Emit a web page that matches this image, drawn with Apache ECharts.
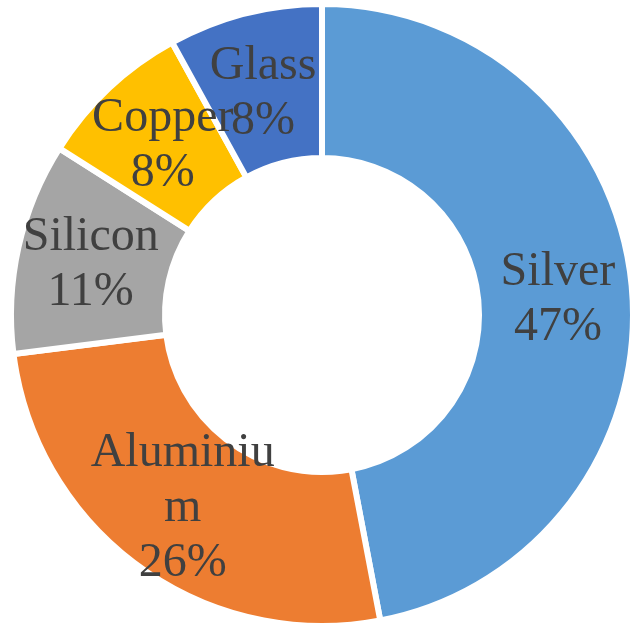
<!DOCTYPE html>
<html>
<head>
<meta charset="utf-8">
<script src="https://cdn.jsdelivr.net/npm/echarts@6/dist/echarts.min.js"></script>
<style>
  html, body { margin: 0; padding: 0; background: #ffffff; }
  #chart { width: 633px; height: 633px; }
</style>
</head>
<body>
<div id="chart"></div>
<script>
// Material shares in the panel
const materials = ['Silver', 'Aluminium', 'Silicon', 'Copper', 'Glass'];
const shares = [47, 26, 11, 8, 8];
const sliceColors = ['#5B9BD5', '#ED7D31', '#A5A5A5', '#FFC000', '#4472C4'];

// small nudges for the in-ring labels, by slice index
const labelNudge = [[0, 7], [0, 2], [0, 2], [3, 4], [0, 8]];

const chart = echarts.init(document.getElementById('chart'), null, { renderer: 'canvas' });

chart.setOption({
  animation: false,
  backgroundColor: '#ffffff',
  series: [{
    type: 'pie',
    center: [322, 315],
    radius: [157, 311],
    startAngle: 90,
    clockwise: true,
    avoidLabelOverlap: false,
    itemStyle: { borderColor: '#ffffff', borderWidth: 6 },
    label: {
      show: true,
      position: 'inside',
      formatter: '{b}\n{d}%',
      fontFamily: '"Liberation Serif", "Times New Roman", serif',
      fontSize: 48,
      lineHeight: 55,
      color: '#404040',
      align: 'center',
      width: 192,
      overflow: 'breakAll'
    },
    labelLine: { show: false },
    labelLayout: function (p) {
      const n = labelNudge[p.dataIndex] || [0, 0];
      return { dx: n[0], dy: n[1] };
    },
    emphasis: { disabled: true },
    data: materials.map((m, i) => ({
      name: m,
      value: shares[i],
      itemStyle: { color: sliceColors[i] }
    }))
  }]
});
</script>
</body>
</html>
